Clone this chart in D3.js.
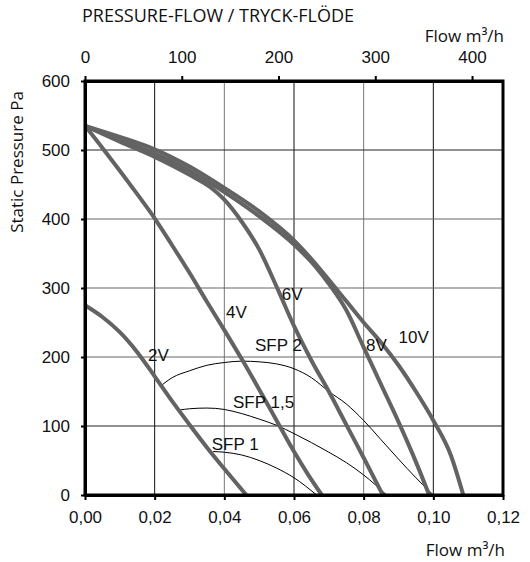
<!DOCTYPE html>
<html>
<head>
<meta charset="utf-8">
<script src="https://cdn.jsdelivr.net/npm/d3@7"></script>
<style>
  body { margin: 0; background: #fff; }
  .tick text { font-family: "Liberation Sans", Arial, sans-serif; font-size: 17px; fill: #111; }
  .lbl { font-family: "Liberation Sans", Arial, sans-serif; font-size: 17px; fill: #111; }
  .hum { font-family: "Open Sans", "Noto Sans", sans-serif; font-size: 17px; fill: #111; }
</style>
</head>
<body>
<script>
// fan curves, flow m3/s vs static pressure Pa
const fan2V = [[0,275],[0.005,258],[0.01,236],[0.015,207],[0.02,172],[0.025,136],[0.03,102],[0.035,69],[0.04,38],[0.0463,0]];
const fan4V = [[0,535],[0.005,503],[0.01,470],[0.015,436],[0.02,401],[0.025,362],[0.03,322],[0.035,280],[0.04,239],[0.045,197],[0.05,153],[0.055,108],[0.06,63],[0.064,30],[0.068,0]];
const fan6V = [[0,535],[0.01,512],[0.02,490],[0.03,464],[0.036,446],[0.04,428],[0.045,396],[0.05,356],[0.055,302],[0.06,245],[0.065,195],[0.07,150],[0.075,102],[0.08,54],[0.0855,0]];
const fan8V = [[0,535],[0.01,515],[0.02,495],[0.03,470],[0.04,439],[0.05,404],[0.06,363],[0.066,332],[0.07,306],[0.075,268],[0.08,214],[0.085,160],[0.09,106],[0.095,48],[0.0988,0]];
const fan10V = [[0,535],[0.01,519],[0.02,501],[0.03,476],[0.04,445],[0.05,411],[0.06,369],[0.065,342],[0.07,312],[0.075,281],[0.08,250],[0.085,221],[0.09,188],[0.095,150],[0.1,108],[0.105,58],[0.1086,0]];

const sfp2 = [[0.0215,157],[0.025,170],[0.03,180],[0.035,188],[0.04,192],[0.045,194],[0.05,193],[0.055,190],[0.06,183],[0.065,170],[0.07,150],[0.075,132],[0.08,108],[0.085,80],[0.09,52],[0.095,25],[0.1,0]];
const sfp15 = [[0.027,123],[0.03,125],[0.035,126],[0.04,124],[0.045,118],[0.05,110],[0.055,101],[0.06,89],[0.065,76],[0.07,62],[0.075,47],[0.08,29],[0.0866,0]];
const sfp1 = [[0.0368,63],[0.04,62],[0.045,58],[0.05,50],[0.055,39],[0.06,25],[0.0665,0]];

const fanCurves = [fan2V, fan4V, fan6V, fan8V, fan10V];
const sfpCurves = [sfp2, sfp15, sfp1];

const curveLabels = ['2V', '4V', '6V', '8V', '10V', 'SFP 2', 'SFP 1,5', 'SFP 1'];
const labelAt = [[0.0181,194],[0.0405,256],[0.0565,282],[0.0807,209],[0.09,221],[0.0488,208],[0.0425,126],[0.0364,65]];

const flowTicks = [0, 0.02, 0.04, 0.06, 0.08, 0.10, 0.12];
const pressTicks = [0, 100, 200, 300, 400, 500, 600];
const flowHourTicks = [0, 100, 200, 300, 400];

const W = 530, H = 562;
const margin = { top: 81, right: 27, bottom: 67, left: 85 };
const width = W - margin.left - margin.right;
const height = H - margin.top - margin.bottom;

const x = d3.scaleLinear().domain([0, 0.12]).range([0, width]);
const xh = d3.scaleLinear().domain([0, 0.12 * 3600]).range([0, width]);
const y = d3.scaleLinear().domain([0, 600]).range([height, 0]);

const svg = d3.select('body').append('svg')
  .attr('width', W)
  .attr('height', H);

svg.append('text').attr('class', 'hum')
  .attr('x', 82).attr('y', 22)
  .style('font-size', '18px')
  .text('PRESSURE-FLOW / TRYCK-FLÖDE');

svg.append('text').attr('class', 'hum')
  .attr('x', 504).attr('y', 42).attr('text-anchor', 'end')
  .text('Flow m³/h');

svg.append('text').attr('class', 'hum')
  .attr('x', 505).attr('y', 556).attr('text-anchor', 'end')
  .text('Flow m³/h');

svg.append('text').attr('class', 'hum')
  .attr('transform', 'translate(23,162) rotate(-90)')
  .attr('text-anchor', 'middle')
  .text('Static Pressure Pa');

const g = svg.append('g')
  .attr('transform', `translate(${margin.left},${margin.top})`);

// grid
g.selectAll('.vgrid')
  .data(flowTicks.slice(1, -1))
  .enter().append('line')
  .attr('x1', d => x(d)).attr('x2', d => x(d))
  .attr('y1', 0).attr('y2', height)
  .attr('stroke', (d, i) => i % 2 ? '#777' : '#111')
  .attr('stroke-width', 1);

g.selectAll('.hgrid')
  .data(pressTicks.slice(1, -1))
  .enter().append('line')
  .attr('x1', 0).attr('x2', width)
  .attr('y1', d => y(d)).attr('y2', d => y(d))
  .attr('stroke', (d, i) => i === 0 || i === 4 ? '#222' : '#666')
  .attr('stroke-width', 1);

const line = d3.line()
  .x(d => x(d[0]))
  .y(d => y(d[1]))
  .curve(d3.curveMonotoneX);

g.selectAll('.sfp')
  .data(sfpCurves)
  .enter().append('path')
  .attr('d', line)
  .attr('fill', 'none')
  .attr('stroke', '#000')
  .attr('stroke-width', 1);

g.selectAll('.fan')
  .data(fanCurves)
  .enter().append('path')
  .attr('d', line)
  .attr('fill', 'none')
  .attr('stroke', '#636363')
  .attr('stroke-width', 4);

g.selectAll('.lbl')
  .data(curveLabels)
  .enter().append('text')
  .attr('class', 'lbl')
  .attr('x', (d, i) => x(labelAt[i][0]))
  .attr('y', (d, i) => y(labelAt[i][1]))
  .text(d => d);

// frame
g.append('rect')
  .attr('width', width).attr('height', height)
  .attr('fill', 'none')
  .attr('stroke', '#000')
  .attr('stroke-width', 3);

const fmt = d3.format('.2f');

g.append('g')
  .attr('transform', `translate(0,${height})`)
  .call(d3.axisBottom(x).tickValues(flowTicks).tickSize(5).tickSizeOuter(0).tickPadding(11)
    .tickFormat(d => fmt(d).replace('.', ',')))
  .call(a => a.select('.domain').attr('stroke-width', 3));

g.append('g')
  .call(d3.axisLeft(y).tickValues(pressTicks).tickSize(4).tickSizeOuter(0).tickPadding(11))
  .call(a => a.select('.domain').attr('stroke-width', 3));

g.append('g')
  .call(d3.axisTop(xh).tickValues(flowHourTicks).tickSize(5).tickSizeOuter(0).tickPadding(13))
  .call(a => a.select('.domain').attr('stroke-width', 3));

g.selectAll('.tick line').attr('stroke-width', 2);
</script>
</body>
</html>
